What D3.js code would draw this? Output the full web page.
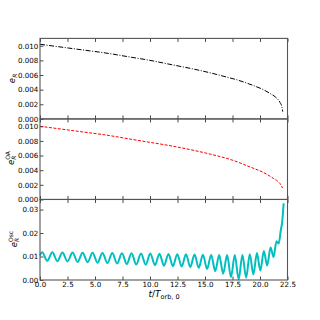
<!DOCTYPE html>
<html>
<head>
<meta charset="utf-8">
<script src="https://cdn.jsdelivr.net/npm/d3@7"></script>
<style>
  body { margin: 0; background: #fff; }
  text { font-family: "DejaVu Sans", sans-serif; fill: #000; }
</style>
</head>
<body>
<svg id="chart"></svg>
<script>
(function () {
    // e_R (dash-dot black)
    const rT = [0, 2, 4, 6, 8, 10, 12, 14, 16, 17, 18, 18.6, 19.5, 20.3, 21.0, 21.4, 21.8, 22.0, 22.06];
    const rE = [0.0102, 0.0098, 0.0094, 0.0090, 0.0085, 0.0080, 0.0074, 0.0068, 0.0061, 0.0057, 0.0053, 0.0050, 0.0045, 0.0040, 0.0034, 0.0030, 0.0023, 0.0016, 0.0010];

    // e_R^OA (dashed red)
    const oaT = [0, 2, 4, 6, 8, 10, 12, 14, 16, 17, 18, 18.5, 19.5, 20.3, 21.2, 21.6, 21.9, 22.05];
    const oaE = [0.0100, 0.0096, 0.0092, 0.0088, 0.0083, 0.0078, 0.0073, 0.0067, 0.0060, 0.0056, 0.0051, 0.0048, 0.0042, 0.0037, 0.0029, 0.0025, 0.0020, 0.00155];

    // e_R^Osc (cyan) - turning points
    const oscT = [0, 0.20, 0.66, 1.12, 1.58, 2.04, 2.50, 2.96, 3.42, 3.87, 4.33, 4.78, 5.23, 5.68, 6.13, 6.57, 7.01, 7.45, 7.89,
        8.32, 8.75, 9.18, 9.61, 10.03, 10.45, 10.86, 11.27, 11.68, 12.08, 12.48, 12.88, 13.27, 13.66, 14.05, 14.43, 14.81, 15.19,
        15.56, 15.93, 16.29, 16.65, 17.01, 17.36, 17.71, 18.06, 18.40, 18.74, 19.07, 19.40, 19.72, 20.03, 20.35, 20.65, 20.96,
        21.23, 21.50, 21.70, 21.90, 22.00, 22.15];
    const oscE = [0.0105, 0.0118, 0.0082, 0.0118, 0.0080, 0.0117, 0.0079, 0.0117, 0.0077, 0.0116, 0.0076, 0.0116, 0.0074, 0.0115, 0.0072, 0.0115, 0.0070, 0.0114, 0.0068,
        0.0114, 0.0066, 0.0113, 0.0065, 0.0113, 0.0063, 0.0112, 0.0061, 0.0111, 0.0059, 0.0110, 0.0057, 0.0110, 0.0055, 0.0109, 0.0052, 0.0108, 0.0047,
        0.0107, 0.0038, 0.0106, 0.0027, 0.0106, 0.0012, 0.0106, 0.0003, 0.0107, 0.0010, 0.0110, 0.0024, 0.0115, 0.0040, 0.0123, 0.0062, 0.0138,
        0.0098, 0.0165, 0.0155, 0.0215, 0.0240, 0.0327];

    const xTicks = [0, 2.5, 5, 7.5, 10, 12.5, 15, 17.5, 20, 22.5];
    const yTicksSmall = [0, 0.002, 0.004, 0.006, 0.008, 0.010];
    const yTicksOsc = [0, 0.01, 0.02, 0.03];

    const width = 320, height = 320;
    const left = 40, right = 287.5;
    const top = 38.4, bottom = 280;
    const ph = (bottom - top) / 3;

    const svg = d3.select('#chart')
        .attr('width', width)
        .attr('height', height);

    const xScale = d3.scaleLinear()
        .domain([0, 22.5])
        .range([left, right]);

    const panels = [
        {t: rT, e: rE, max: 0.011, ticks: yTicksSmall, fmt: d3.format('.3f'), color: '#000', dash: '5,1.6,1,1.6', lw: 1},
        {t: oaT, e: oaE, max: 0.011, ticks: yTicksSmall, fmt: d3.format('.3f'), color: '#ff0000', dash: '3,1.5', lw: 1},
        {t: oscT, e: oscE, max: 0.0343, ticks: yTicksOsc, fmt: d3.format('.2f'), color: '#00bfbf', dash: null, lw: 2}
    ];

    panels.forEach((p, i) => {
        const y0 = top + i * ph;
        const y1 = y0 + ph;
        const yScale = d3.scaleLinear()
            .domain([0, p.max])
            .range([y1, y0]);

        const g = svg.append('g');

        const line = d3.line()
            .x((d, k) => xScale(p.t[k]))
            .y(d => yScale(d))
            .curve(d3.curveMonotoneX);

        g.append('path')
            .datum(p.e)
            .attr('d', line)
            .attr('fill', 'none')
            .attr('stroke', p.color)
            .attr('stroke-width', p.lw)
            .attr('stroke-dasharray', p.dash);

        // axes, ticks pointing inward
        const yAxis = g.append('g')
            .attr('transform', `translate(${left},0)`)
            .call(d3.axisLeft(yScale).tickValues(p.ticks).tickFormat(p.fmt).tickSizeInner(-3.5).tickSizeOuter(0).tickPadding(1.8));

        const xb = g.append('g')
            .attr('transform', `translate(0,${y1})`)
            .call(d3.axisBottom(xScale).tickValues(xTicks).tickFormat(i === 2 ? d3.format('.1f') : '').tickSizeInner(-3.5).tickSizeOuter(0).tickPadding(2.2));

        const xt = g.append('g')
            .attr('transform', `translate(0,${y0})`)
            .call(d3.axisTop(xScale).tickValues(xTicks).tickFormat('').tickSizeInner(-3.5).tickSizeOuter(0));

        [yAxis, xb, xt].forEach(a => {
            a.select('.domain').remove();
            a.selectAll('line').attr('stroke', '#333').attr('stroke-width', 0.9);
            a.selectAll('text').attr('font-size', 7.1).attr('font-family', '"DejaVu Sans", sans-serif');
        });

        g.append('rect')
            .attr('x', left)
            .attr('y', y0)
            .attr('width', right - left)
            .attr('height', ph)
            .attr('fill', 'none')
            .attr('stroke', '#555')
            .attr('stroke-width', 1.1);
    });

    // y labels
    const labels = [
        {x: 14.5, sup: null},
        {x: 13.5, sup: 'OA'},
        {x: 16.5, sup: 'Osc'}
    ];
    labels.forEach((l, i) => {
        const cy = top + i * ph + ph / 2;
        const lg = svg.append('g')
            .attr('transform', `translate(${l.x},${cy}) rotate(-90)`);
        const w = l.sup ? 4.5 + l.sup.length * 3.6 : 9;
        lg.append('text')
            .attr('x', -w / 2)
            .attr('y', 0)
            .attr('font-size', 8.5)
            .attr('font-style', 'italic')
            .text('e');
        lg.append('text')
            .attr('x', -w / 2 + 5.3)
            .attr('y', 2.3)
            .attr('font-size', 6)
            .attr('font-style', 'italic')
            .text('R');
        if (l.sup) {
            lg.append('text')
                .attr('x', -w / 2 + 5.3)
                .attr('y', -4)
                .attr('font-size', 6)
                .text(l.sup);
        }
    });

    // x label
    const xl = svg.append('text')
        .attr('x', 164)
        .attr('y', 296.5)
        .attr('text-anchor', 'middle')
        .attr('font-size', 9);
    xl.append('tspan').attr('font-style', 'italic').text('t');
    xl.append('tspan').text('/');
    xl.append('tspan').attr('font-style', 'italic').text('T');
    xl.append('tspan').attr('font-size', 6.5).attr('dy', 2).text('orb, 0');
})();
</script>
</body>
</html>
